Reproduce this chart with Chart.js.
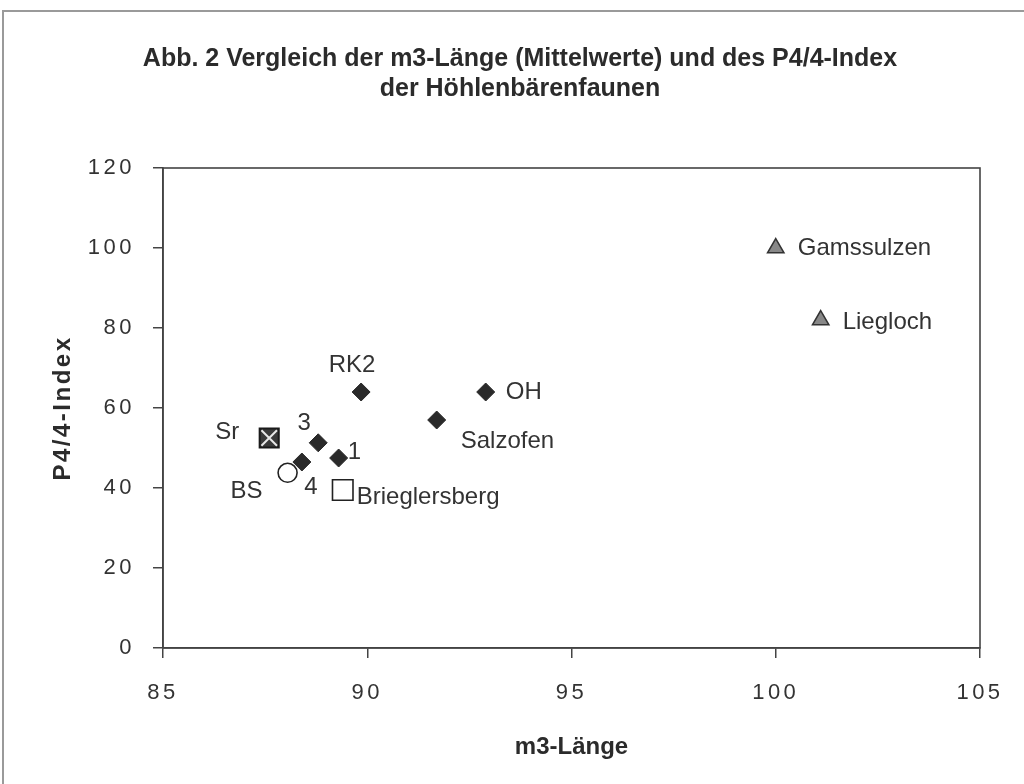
<!DOCTYPE html>
<html><head><meta charset="utf-8">
<script src="https://cdn.jsdelivr.net/npm/chart.js@4.4.1/dist/chart.umd.min.js"></script>
<style>html,body{margin:0;padding:0;background:#fff}canvas{display:block}</style>
</head><body><canvas id="c" width="1024" height="784"></canvas>
<script>
// ---- data ----
const xTicks = [85, 90, 95, 100, 105];
const yTicks = [0, 20, 40, 60, 80, 100, 120];
const caveNames = ['RK2', 'OH', 'Salzofen', '3', '1', '4'];
const caveX = [89.85, 92.9, 91.7, 88.8, 89.3, 88.4];
const caveY = [64, 64, 57, 51.3, 47.5, 46.5];
const srNames = ['Sr'];
const srX = [87.6];
const srY = [52.5];
const bsNames = ['BS'];
const bsX = [88.05];
const bsY = [43.8];
const brNames = ['Brieglersberg'];
const brX = [89.4];
const brY = [39.5];
const triNames = ['Gamssulzen', 'Liegloch'];
const triX = [100, 101.1];
const triY = [100, 82];

// ---- label placement (style) ----
const labelStyle = {
  'RK2': [-9, -27, 'center'],
  'OH': [20, 0, 'left'],
  'Salzofen': [24, 21, 'left'],
  '3': [-14, -19, 'center'],
  '1': [9, -6, 'left'],
  '4': [9, 25, 'center'],
  'Sr': [-30, -6, 'right'],
  'BS': [-25, 19, 'right'],
  'Brieglersberg': [14, 7, 'left'],
  'Gamssulzen': [22, 0, 'left'],
  'Liegloch': [22, 2, 'left']
};

const FONT = "'Liberation Sans', Arial, sans-serif";
const INK = '#333';
const pts = (xs, ys) => xs.map((x, i) => ({x: x, y: ys[i]}));

function spaced(fn, sp) {
  return function (a) {
    const ctx = this.ctx;
    ctx.save();
    ctx.letterSpacing = sp;
    fn.call(this, a);
    ctx.restore();
  };
}

const framePlugin = {
  id: 'frame',
  beforeDraw(chart) {
    const c = chart.ctx;
    c.save();
    c.fillStyle = '#fff';
    c.fillRect(0, 0, chart.width, chart.height);
    c.strokeStyle = '#9a9a9a';
    c.lineWidth = 2;
    c.beginPath();
    c.moveTo(3, chart.height);
    c.lineTo(3, 11);
    c.lineTo(chart.width, 11);
    c.stroke();
    c.restore();
    for (const id of ['x', 'y']) {
      const s = chart.scales[id];
      if (s && !s._spaced) {
        s.drawLabels = spaced(s.drawLabels, '3.5px');
        if (id === 'y') s.drawTitle = spaced(s.drawTitle, '2.5px');
        s._spaced = true;
      }
    }
  },
  beforeDatasetsDraw(chart) {
    const a = chart.chartArea, c = chart.ctx;
    c.save();
    c.strokeStyle = '#444';
    c.lineWidth = 1.6;
    c.strokeRect(a.left, a.top, a.right - a.left, a.bottom - a.top);
    c.restore();
  }
};

const labelPlugin = {
  id: 'pointLabels',
  afterDatasetsDraw(chart) {
    const c = chart.ctx;
    c.save();
    c.font = "24px " + FONT;
    c.fillStyle = INK;
    c.textBaseline = 'middle';
    chart.data.datasets.forEach((ds, di) => {
      if (!ds.names) return;
      const meta = chart.getDatasetMeta(di);
      meta.data.forEach((el, i) => {
        const nm = ds.names[i];
        const st = labelStyle[nm];
        if (!st) return;
        c.textAlign = st[2];
        c.fillText(nm, el.x + st[0], el.y + st[1]);
      });
    });
    c.restore();
  }
};

new Chart(document.getElementById('c'), {
  type: 'scatter',
  data: {
    datasets: [
      {names: caveNames, data: pts(caveX, caveY), pointStyle: 'rectRot', pointRadius: 9,
        backgroundColor: '#2a2a2a', borderColor: '#2a2a2a', borderWidth: 1, order: 1},
      {data: pts(srX, srY), pointStyle: 'crossRot', pointRadius: 11,
        borderColor: '#e8e8e8', borderWidth: 2, order: 0},
      {names: srNames, data: pts(srX, srY), pointStyle: 'rect', pointRadius: 13.5,
        backgroundColor: '#3a3a3a', borderColor: '#1a1a1a', borderWidth: 2, order: 2},
      {names: bsNames, data: pts(bsX, bsY), pointStyle: 'circle', pointRadius: 9.5,
        backgroundColor: '#fff', borderColor: '#222', borderWidth: 1.6, order: 3},
      {names: brNames, data: pts(brX, brY), pointStyle: 'rect', pointRadius: 14.5,
        backgroundColor: '#fff', borderColor: '#222', borderWidth: 1.6, order: 4},
      {names: triNames, data: pts(triX, triY), pointStyle: 'triangle', pointRadius: 9.5,
        backgroundColor: '#888', borderColor: '#333', borderWidth: 1.5, order: 5}
    ]
  },
  options: {
    responsive: false,
    animation: false,
    devicePixelRatio: 1,
    layout: {padding: {top: 10, left: 60, right: 44, bottom: 20}},
    plugins: {
      legend: {display: false},
      tooltip: {enabled: false},
      title: {
        display: true,
        text: ['Abb. 2 Vergleich der m3-Länge (Mittelwerte) und des P4/4-Index', 'der Höhlenbärenfaunen'],
        color: '#2b2b2b',
        font: {family: FONT, size: 25, weight: 'bold', lineHeight: 1.2},
        padding: {top: 34, bottom: 64}
      }
    },
    scales: {
      x: {
        type: 'linear', min: 85, max: 105,
        afterBuildTicks: s => { s.ticks = xTicks.map(v => ({value: v})); },
        afterFit: s => { s.height = 116; },
        grid: {drawOnChartArea: false, drawTicks: true, tickLength: 10, color: '#444', lineWidth: 1.5},
        border: {display: true, color: '#444', width: 1.6},
        ticks: {color: INK, font: {family: FONT, size: 22}, padding: 22, maxRotation: 0},
        title: {display: true, text: 'm3-Länge', color: '#2b2b2b',
          font: {family: FONT, size: 24, weight: 'bold'}, padding: {top: 0, bottom: 2}}
      },
      y: {
        type: 'linear', min: 0, max: 120,
        afterBuildTicks: s => { s.ticks = yTicks.map(v => ({value: v})); },
        afterFit: s => { s.width = 103; },
        grid: {drawOnChartArea: false, drawTicks: true, tickLength: 10, color: '#444', lineWidth: 1.5},
        border: {display: true, color: '#444', width: 1.6},
        ticks: {color: INK, font: {family: FONT, size: 22}, padding: 18},
        title: {display: true, text: 'P4/4-Index', color: '#2b2b2b',
          font: {family: FONT, size: 24, weight: 'bold'}, padding: {top: -11, bottom: 0}}
      }
    }
  },
  plugins: [framePlugin, labelPlugin]
});
</script>
</body></html>
